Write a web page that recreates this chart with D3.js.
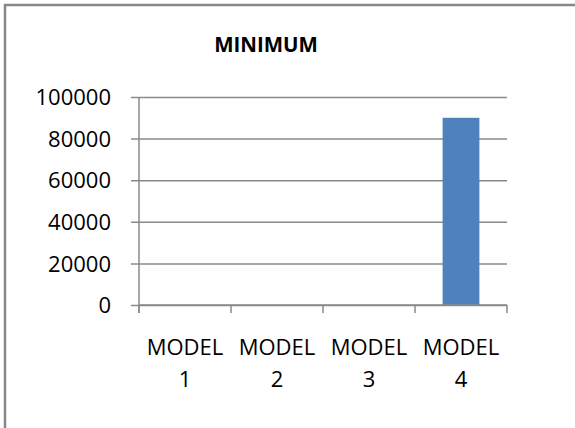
<!DOCTYPE html>
<html>
<head>
<meta charset="utf-8">
<script src="https://cdn.jsdelivr.net/npm/d3@7"></script>
<style>
  body { margin: 0; background: #fff; }
  svg { display: block; }
  text { font-family: "Open Sans", "Noto Sans", sans-serif; fill: #000; }
</style>
</head>
<body>
<div id="container"></div>
<script>
var categories = ['MODEL 1', 'MODEL 2', 'MODEL 3', 'MODEL 4'];
var minimumValues = [0, 0, 0, 90000];
var yTicks = [0, 20000, 40000, 60000, 80000, 100000];
var chartTitle = 'MINIMUM';

function initialiseView(divId) {
    var svg = d3.select(divId).append('svg')
        .attr('width', 575)
        .attr('height', 428);
    return svg;
}

function drawChart(svg) {
    var left = 139, right = 507, top = 97, bottom = 305;

    // outer frame of the chart object, runs off the right and bottom
    svg.append('rect')
        .attr('x', 5).attr('y', 5)
        .attr('width', 700).attr('height', 600)
        .attr('fill', 'none')
        .attr('stroke', '#878787')
        .attr('stroke-width', 2.5);

    svg.append('text')
        .attr('x', 266).attr('y', 52)
        .attr('text-anchor', 'middle')
        .style('font-weight', 'bold')
        .style('font-size', '20.5px')
        .text(chartTitle);

    var x = d3.scaleBand()
        .domain(categories)
        .range([left, right])
        .paddingInner(0)
        .paddingOuter(0);

    var y = d3.scaleLinear()
        .domain([0, 100000])
        .range([bottom, top]);

    // gridlines + y labels
    var yAxis = d3.axisLeft(y)
        .tickValues(yTicks)
        .tickSize(-(right - left))
        .tickSizeOuter(0)
        .tickFormat(d3.format('d'));

    var gy = svg.append('g')
        .attr('transform', 'translate(' + left + ',0)')
        .call(yAxis);
    gy.select('.domain').remove();
    gy.selectAll('.tick line')
        .attr('x1', -8)
        .attr('stroke', '#8a8a8a')
        .attr('stroke-width', 1.5);
    gy.selectAll('.tick text')
        .attr('x', -28)
        .attr('dy', '0.35em')
        .style('font-size', '22px')
        .style('font-family', '"Open Sans", sans-serif')
        .attr('fill', '#000');

    svg.append('line')
        .attr('x1', left).attr('x2', left)
        .attr('y1', top).attr('y2', bottom + 8)
        .attr('stroke', '#8a8a8a')
        .attr('stroke-width', 1.5);

    // bars
    var barW = x.bandwidth() * 0.4;
    svg.selectAll('rect.bar')
        .data(minimumValues)
        .enter().append('rect')
        .attr('class', 'bar')
        .attr('x', function(d, i) { return x(categories[i]) + (x.bandwidth() - barW) / 2; })
        .attr('width', barW)
        .attr('y', function(d) { return y(d); })
        .attr('height', function(d) { return bottom - y(d); })
        .attr('fill', '#4F81BD');

    // category axis
    svg.append('line')
        .attr('x1', left).attr('x2', right)
        .attr('y1', bottom).attr('y2', bottom)
        .attr('stroke', '#8a8a8a')
        .attr('stroke-width', 1.5);

    var boundaries = categories.map(function(c) { return x(c); }).concat([right]);
    svg.selectAll('line.xtick')
        .data(boundaries)
        .enter().append('line')
        .attr('class', 'xtick')
        .attr('x1', function(d) { return d; })
        .attr('x2', function(d) { return d; })
        .attr('y1', bottom)
        .attr('y2', bottom + 8)
        .attr('stroke', '#8a8a8a')
        .attr('stroke-width', 1.5);

    var labels = svg.selectAll('text.xlabel')
        .data(categories)
        .enter().append('text')
        .attr('class', 'xlabel')
        .attr('text-anchor', 'middle')
        .style('font-size', '22px');
    labels.each(function(d) {
        var parts = d.split(' ');
        var cx = x(d) + x.bandwidth() / 2;
        var t = d3.select(this);
        t.append('tspan').attr('x', cx).attr('y', 355).text(parts[0]);
        t.append('tspan').attr('x', cx).attr('y', 387).text(parts[1]);
    });
}

var svg = initialiseView('#container');
drawChart(svg);
</script>
</body>
</html>
